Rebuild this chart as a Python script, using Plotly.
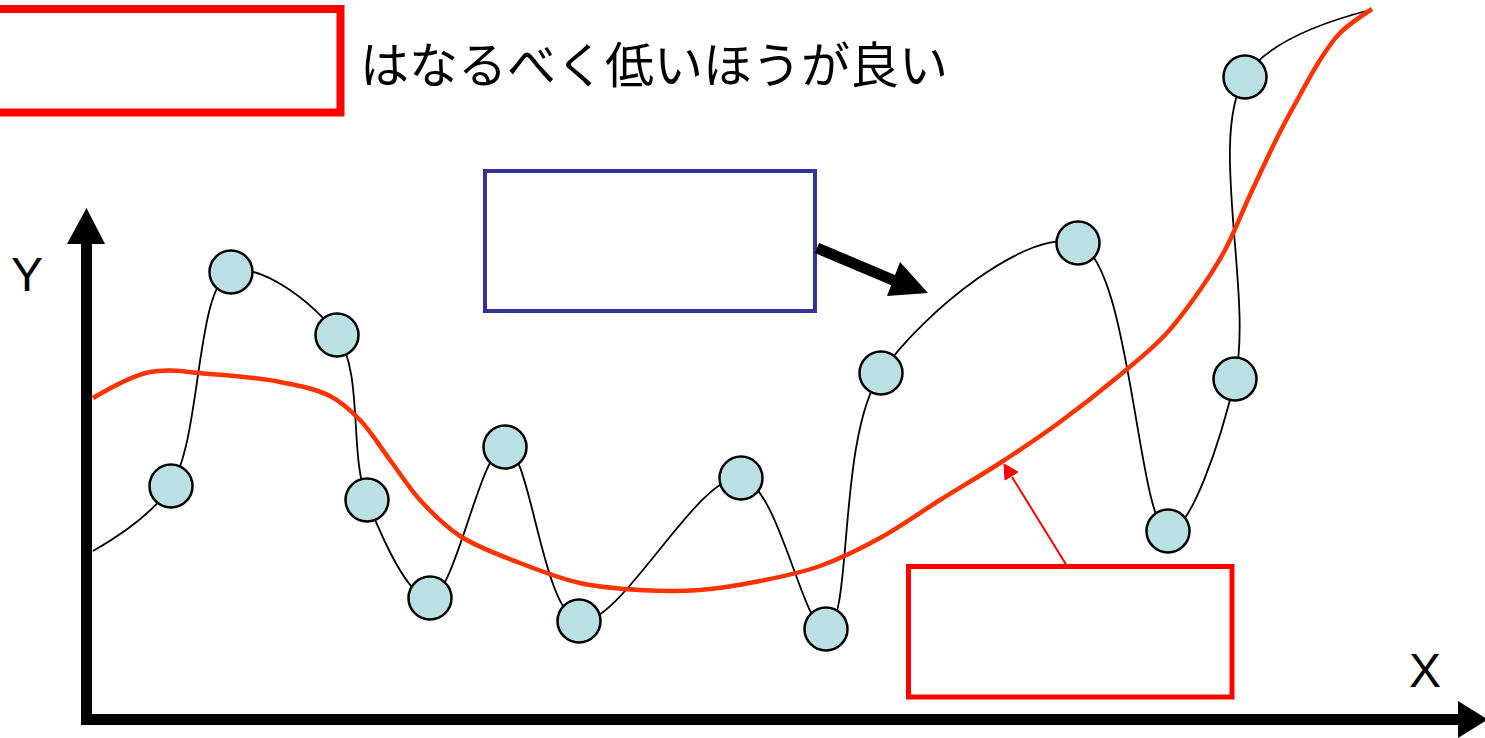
import plotly.graph_objects as go

# Data points (circles) in canvas coordinates
point_x = [171, 231, 337, 367, 430, 505, 579, 741, 826, 881, 1078, 1168, 1235, 1245]
point_y = [486, 272, 335, 500, 598, 447, 621, 478, 629, 373, 243, 531, 379, 77]

# Black interpolating curve end points
curve_start = (93, 551)
curve_end = (1370, 10)

# Red smooth trend curve
trend_x = [93, 150, 210, 280, 330, 360, 390, 420, 460, 520, 580, 640, 700, 760, 820,
           880, 940, 1000, 1060, 1120, 1165, 1200, 1225, 1250, 1280, 1300, 1320, 1340,
           1372]
trend_y = [398, 372, 374, 382, 396, 420, 460, 500, 536, 563, 583, 590, 590, 581, 566,
           538, 500, 463, 422, 375, 335, 290, 250, 195, 132, 95, 60, 33,
           9]

title_text = "はなるべく低いほうが良い"
x_label = "X"
y_label = "Y"

line_x = [curve_start[0]] + point_x + [curve_end[0]]
line_y = [curve_start[1]] + point_y + [curve_end[1]]

fig = go.Figure()
fig.add_trace(go.Scatter(x=line_x, y=line_y, mode="lines",
                         line=dict(color="black", width=1.8, shape="spline", smoothing=1.0),
                         hoverinfo="skip"))
fig.add_trace(go.Scatter(x=trend_x, y=trend_y, mode="lines",
                         line=dict(color="#ff3300", width=4.5, shape="spline", smoothing=1.0),
                         hoverinfo="skip"))
fig.add_trace(go.Scatter(x=point_x, y=point_y, mode="markers",
                         marker=dict(size=43, color="#bae0e3", line=dict(color="black", width=2.5))))

shapes = []
# Y axis
shapes.append(dict(type="line", x0=86.5, y0=725, x1=86.5, y1=240, line=dict(color="black", width=11)))
shapes.append(dict(type="path", path="M 67,244 L 105,244 L 86.5,208 Z", fillcolor="black", line=dict(width=0)))
# X axis
shapes.append(dict(type="line", x0=81, y0=719.5, x1=1462, y1=719.5, line=dict(color="black", width=11)))
shapes.append(dict(type="path", path="M 1458,701 L 1458,738 L 1488,719.5 Z", fillcolor="black", line=dict(width=0)))
# Top-left red box
shapes.append(dict(type="rect", x0=-20, y0=9, x1=340.5, y1=112.5, line=dict(color="#ff0000", width=8)))
# Blue box
shapes.append(dict(type="rect", x0=485, y0=171, x1=815, y1=311, line=dict(color="#333399", width=4)))
# Bottom red box
shapes.append(dict(type="rect", x0=908.5, y0=566.5, x1=1232, y1=697, line=dict(color="#ff0000", width=5)))
# Black arrow
shapes.append(dict(type="line", x0=817, y0=248, x1=900, y1=283, line=dict(color="black", width=11)))
shapes.append(dict(type="path", path="M 900,262 L 887,296 L 928,293 Z", fillcolor="black", line=dict(width=0)))
# Thin red arrow
shapes.append(dict(type="line", x0=1067, y0=566, x1=1012, y1=477, line=dict(color="#ff0000", width=2)))
shapes.append(dict(type="path", path="M 1018,472 L 1005,480 L 1004,464 Z", fillcolor="#ff0000", line=dict(color="#ff0000", width=1)))

annotations = [
    dict(x=358, y=61, xref="x", yref="y", text=title_text, showarrow=False, xanchor="left",
         yanchor="middle", font=dict(family="Noto Sans CJK JP", size=49, color="black")),
    dict(x=27, y=274, xref="x", yref="y", text=y_label, showarrow=False, xanchor="center",
         yanchor="middle", font=dict(family="Liberation Sans, Arial", size=48, color="black")),
    dict(x=1425, y=670, xref="x", yref="y", text=x_label, showarrow=False, xanchor="center",
         yanchor="middle", font=dict(family="Liberation Sans, Arial", size=48, color="black")),
]

fig.update_layout(
    width=1485, height=738,
    margin=dict(l=0, r=0, t=0, b=0),
    paper_bgcolor="white", plot_bgcolor="white",
    showlegend=False,
    xaxis=dict(range=[0, 1485], visible=False, fixedrange=True),
    yaxis=dict(range=[738, 0], visible=False, fixedrange=True),
    shapes=shapes,
    annotations=annotations,
)

fig.write_html("out.html", config={"displayModeBar": False},
               post_script="document.body.style.margin='0';document.body.style.overflow='hidden';")
